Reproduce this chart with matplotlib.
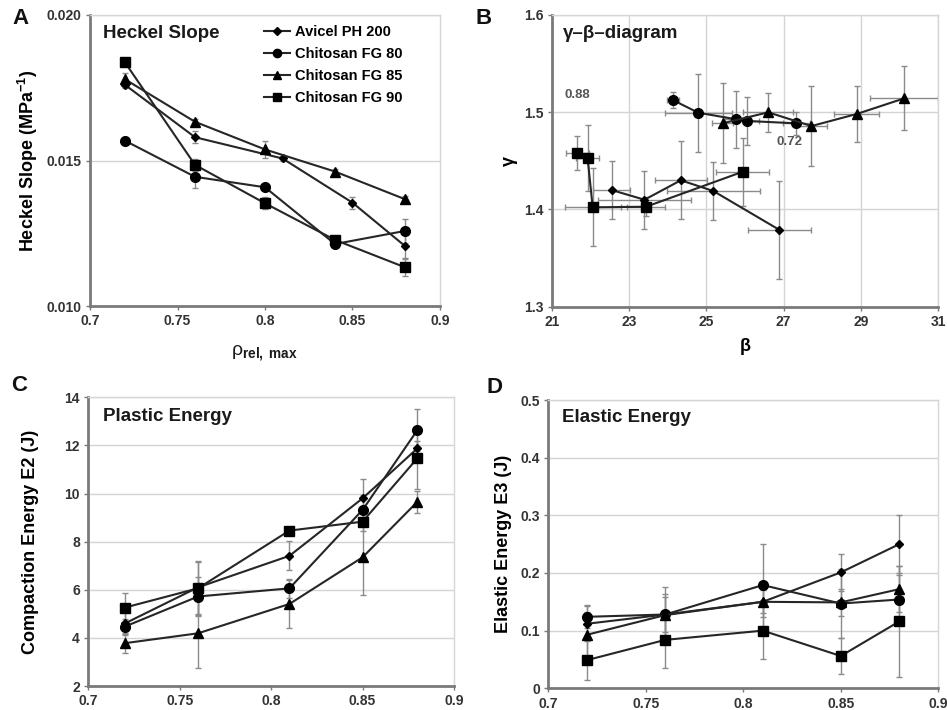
import matplotlib
matplotlib.use("Agg")
import matplotlib.pyplot as plt
from matplotlib.lines import Line2D

plt.rcParams['font.family'] = ['Liberation Sans', 'DejaVu Sans']
plt.rcParams['mathtext.fontset'] = 'custom'
plt.rcParams['mathtext.rm'] = 'Liberation Sans'
plt.rcParams['mathtext.bf'] = 'Liberation Sans:bold'
plt.rcParams['mathtext.it'] = 'Liberation Sans:italic'

# ---------------- data ----------------
series_names = ["Avicel PH 200", "Chitosan FG 80", "Chitosan FG 85", "Chitosan FG 90"]

# Panel A: Heckel slope vs relative density
xA_avicel = [0.72, 0.76, 0.81, 0.85, 0.88]
xA_chitosan = [0.72, 0.76, 0.80, 0.84, 0.88]
heckel_avicel = [0.0176, 0.0158, 0.01507, 0.01355, 0.01206]
heckel_avicel_err = [0.0001, 0.0002, 0.0001, 0.0002, 0.0004]
heckel_fg80 = [0.01568, 0.01444, 0.01408, 0.01213, 0.01258]
heckel_fg80_err = [0.0001, 0.0004, 0.0001, 0.0001, 0.0004]
heckel_fg85 = [0.01779, 0.01633, 0.01538, 0.01462, 0.01367]
heckel_fg85_err = [0.0002, 0.0001, 0.0003, 0.0001, 0.0001]
heckel_fg90 = [0.01837, 0.01485, 0.01353, 0.01227, 0.01133]
heckel_fg90_err = [0.0001, 0.0002, 0.0002, 0.0001, 0.0003]

# Panel B: gamma-beta diagram
beta_avicel = [22.55, 23.40, 24.34, 25.18, 26.89]
gamma_avicel = [1.420, 1.410, 1.430, 1.419, 1.379]
beta_avicel_err = [0.47, 1.20, 0.68, 1.20, 0.82]
gamma_avicel_err = [0.03, 0.03, 0.04, 0.03, 0.05]
beta_fg80 = [24.13, 24.79, 25.78, 26.06, 27.32]
gamma_fg80 = [1.5126, 1.4995, 1.4927, 1.4910, 1.4886]
beta_fg80_err = [0.15, 0.87, 0.30, 0.30, 0.35]
gamma_fg80_err = [0.008, 0.040, 0.029, 0.025, 0.012]
beta_fg85 = [25.42, 26.60, 27.72, 28.89, 30.12]
gamma_fg85 = [1.4886, 1.4999, 1.4858, 1.4982, 1.5143]
beta_fg85_err = [0.28, 0.65, 0.39, 0.58, 0.88]
gamma_fg85_err = [0.041, 0.020, 0.041, 0.029, 0.033]
beta_fg90 = [21.66, 21.93, 22.06, 23.44, 25.94]
gamma_fg90 = [1.4577, 1.4526, 1.4022, 1.4028, 1.4388]
beta_fg90_err = [0.30, 0.30, 0.72, 0.50, 0.69]
gamma_fg90_err = [0.0175, 0.034, 0.040, 0.010, 0.035]

# Panels C and D: energies vs relative density
x_energy = [0.72, 0.76, 0.81, 0.85, 0.88]
e2_avicel = [4.60, 6.10, 7.41, 9.80, 11.88]
e2_avicel_err = [0.5, 1.1, 0.6, 0.8, 0.3]
e2_fg80 = [4.47, 5.72, 6.06, 9.32, 12.64]
e2_fg80_err = [0.3, 0.8, 0.4, 0.6, 0.86]
e2_fg85 = [3.78, 4.19, 5.41, 7.35, 9.66]
e2_fg85_err = [0.42, 1.45, 1.0, 1.55, 0.45]
e2_fg90 = [5.26, 6.06, 8.46, 8.83, 11.47]
e2_fg90_err = [0.6, 1.1, 0.15, 0.4, 1.3]

e3_avicel = [0.112, 0.128, 0.150, 0.201, 0.250]
e3_avicel_err = [0.03, 0.03, 0.02, 0.032, 0.05]
e3_fg80 = [0.124, 0.128, 0.179, 0.147, 0.154]
e3_fg80_err = [0.02, 0.047, 0.072, 0.06, 0.043]
e3_fg85 = [0.093, 0.127, 0.150, 0.149, 0.172]
e3_fg85_err = [0.04, 0.037, 0.027, 0.023, 0.04]
e3_fg90 = [0.049, 0.084, 0.100, 0.056, 0.116]
e3_fg90_err = [0.034, 0.048, 0.05, 0.031, 0.096]

xticks_density = [0.7, 0.75, 0.8, 0.85, 0.9]
xtick_density_labels = ["0.7", "0.75", "0.8", "0.85", "0.9"]

# ---------------- style ----------------
markers = ['D', 'o', '^', 's']
msizes = [4.5, 7, 6.5, 7.5]
LINE = '#262626'
ERR = '#8a8a8a'
TICKC = '#333333'

W, H = 947, 710
fig = plt.figure(figsize=(W / 100, H / 100), dpi=100)


def rect(l, t, r, b):
    return [l / W, 1 - b / H, (r - l) / W, (b - t) / H]


def style(ax, xgrid=False):
    for s in ['left', 'bottom']:
        ax.spines[s].set_color('#7a7a7a')
        ax.spines[s].set_linewidth(2.0)
    for s in ['top', 'right']:
        ax.spines[s].set_color('#d6d6d6')
        ax.spines[s].set_linewidth(1.0)
    ax.tick_params(direction='out', length=3, width=1, color='#7a7a7a',
                   labelsize=10, labelcolor=TICKC, pad=3)
    for lab in ax.get_xticklabels() + ax.get_yticklabels():
        lab.set_fontweight('bold')
    ax.grid(True, axis='both' if xgrid else 'y', color='#d4d4d4', lw=1)
    ax.set_axisbelow(True)


def plot_series(ax, x, y, yerr, i, xerr=None):
    ax.errorbar(x, y, yerr=yerr, xerr=xerr, fmt='none', ecolor=ERR,
                elinewidth=1, capsize=2.5, capthick=1, zorder=2)
    ax.plot(x, y, color=LINE, lw=1.5, marker=markers[i], ms=msizes[i],
            mfc='black', mec='black', zorder=3)


# ---- Panel A ----
axA = fig.add_axes(rect(90, 15, 440, 306))
plot_series(axA, xA_avicel, heckel_avicel, heckel_avicel_err, 0)
plot_series(axA, xA_chitosan, heckel_fg80, heckel_fg80_err, 1)
plot_series(axA, xA_chitosan, heckel_fg85, heckel_fg85_err, 2)
plot_series(axA, xA_chitosan, heckel_fg90, heckel_fg90_err, 3)
axA.set_xlim(0.7, 0.9)
axA.set_ylim(0.010, 0.020)
axA.set_xticks(xticks_density)
axA.set_xticklabels(xtick_density_labels)
axA.set_yticks([0.010, 0.015, 0.020])
axA.set_yticklabels(["0.010", "0.015", "0.020"])
style(axA)
axA.set_ylabel(r"Heckel Slope (MPa$^{\mathbf{-1}}$)", fontsize=13, fontweight='bold', va='center')
axA.yaxis.set_label_coords(-0.177, 0.5)
axA.set_xlabel(r"ρ$_{\mathbf{rel,\ max}}$", fontsize=14, va='center', color='#1a1a1a')
axA.xaxis.set_label_coords(0.5, -0.162)
axA.text(0.037, 0.938, "Heckel Slope", transform=axA.transAxes, fontsize=13.5,
         fontweight='bold', va='center', ha='left', color='#1a1a1a')
handles = [Line2D([], [], color=LINE, lw=1.5, marker=markers[i], ms=msizes[i] * 0.85,
                  mfc='black', mec='black') for i in range(4)]
leg = axA.legend(handles, series_names, loc='upper left', bbox_to_anchor=(0.48, 0.985),
                 frameon=False, handlelength=1.8, handletextpad=0.35, labelspacing=0.55,
                 prop={'weight': 'bold', 'size': 10.5}, borderaxespad=0)

# ---- Panel B ----
axB = fig.add_axes(rect(551.7, 15, 938.3, 306.7))
plot_series(axB, beta_avicel, gamma_avicel, gamma_avicel_err, 0, beta_avicel_err)
plot_series(axB, beta_fg80, gamma_fg80, gamma_fg80_err, 1, beta_fg80_err)
plot_series(axB, beta_fg85, gamma_fg85, gamma_fg85_err, 2, beta_fg85_err)
plot_series(axB, beta_fg90, gamma_fg90, gamma_fg90_err, 3, beta_fg90_err)
axB.set_xlim(21, 31)
axB.set_ylim(1.3, 1.6)
axB.set_xticks([21, 23, 25, 27, 29, 31])
axB.set_yticks([1.3, 1.4, 1.5, 1.6])
axB.set_yticklabels(["1.3", "1.4", "1.5", "1.6"])
style(axB, xgrid=True)
axB.set_ylabel("γ", fontsize=13, fontweight='bold', va='center')
axB.yaxis.set_label_coords(-0.11, 0.5)
axB.set_xlabel("β", fontsize=13, fontweight='bold', va='center')
axB.xaxis.set_label_coords(0.5, -0.138)
axB.text(0.029, 0.938, "γ–β–diagram", transform=axB.transAxes, fontsize=13.5,
         fontweight='bold', va='center', ha='left', color='#1a1a1a')
axB.text(21.65, 1.5177, "0.88", fontsize=9.5, fontweight='bold', color='#555555',
         ha='center', va='center')
axB.text(27.14, 1.4694, "0.72", fontsize=9.5, fontweight='bold', color='#555555',
         ha='center', va='center')

# ---- Panel C ----
axC = fig.add_axes(rect(88.3, 397.3, 454, 686))
plot_series(axC, x_energy, e2_avicel, e2_avicel_err, 0)
plot_series(axC, x_energy, e2_fg80, e2_fg80_err, 1)
plot_series(axC, x_energy, e2_fg85, e2_fg85_err, 2)
plot_series(axC, x_energy, e2_fg90, e2_fg90_err, 3)
axC.set_xlim(0.7, 0.9)
axC.set_ylim(2, 14)
axC.set_xticks(xticks_density)
axC.set_xticklabels(xtick_density_labels)
axC.set_yticks([2, 4, 6, 8, 10, 12, 14])
style(axC)
axC.set_ylabel("Compaction Energy E2 (J)", fontsize=13, fontweight='bold', va='center')
axC.yaxis.set_label_coords(-0.159, 0.5)
axC.text(0.04, 0.932, "Plastic Energy", transform=axC.transAxes, fontsize=13.5,
         fontweight='bold', va='center', ha='left', color='#1a1a1a')

# ---- Panel D ----
axD = fig.add_axes(rect(548.3, 400, 938.3, 688.3))
plot_series(axD, x_energy, e3_avicel, e3_avicel_err, 0)
plot_series(axD, x_energy, e3_fg80, e3_fg80_err, 1)
plot_series(axD, x_energy, e3_fg85, e3_fg85_err, 2)
plot_series(axD, x_energy, e3_fg90, e3_fg90_err, 3)
axD.set_xlim(0.7, 0.9)
axD.set_ylim(0, 0.5)
axD.set_xticks(xticks_density)
axD.set_xticklabels(xtick_density_labels)
axD.set_yticks([0, 0.1, 0.2, 0.3, 0.4, 0.5])
axD.set_yticklabels(["0", "0.1", "0.2", "0.3", "0.4", "0.5"])
style(axD)
axD.set_ylabel("Elastic Energy E3 (J)", fontsize=13, fontweight='bold', va='center')
axD.yaxis.set_label_coords(-0.116, 0.5)
axD.text(0.035, 0.941, "Elastic Energy", transform=axD.transAxes, fontsize=13.5,
         fontweight='bold', va='center', ha='left', color='#1a1a1a')

# panel letters
for letter, (px, py) in zip("ABCD", [(20, 18), (484, 18), (19, 385), (494, 387)]):
    fig.text(px / W, 1 - py / H, letter, fontsize=16, fontweight='bold',
             ha='center', va='center', color='#111111')

fig.savefig("out.png", dpi=100)
